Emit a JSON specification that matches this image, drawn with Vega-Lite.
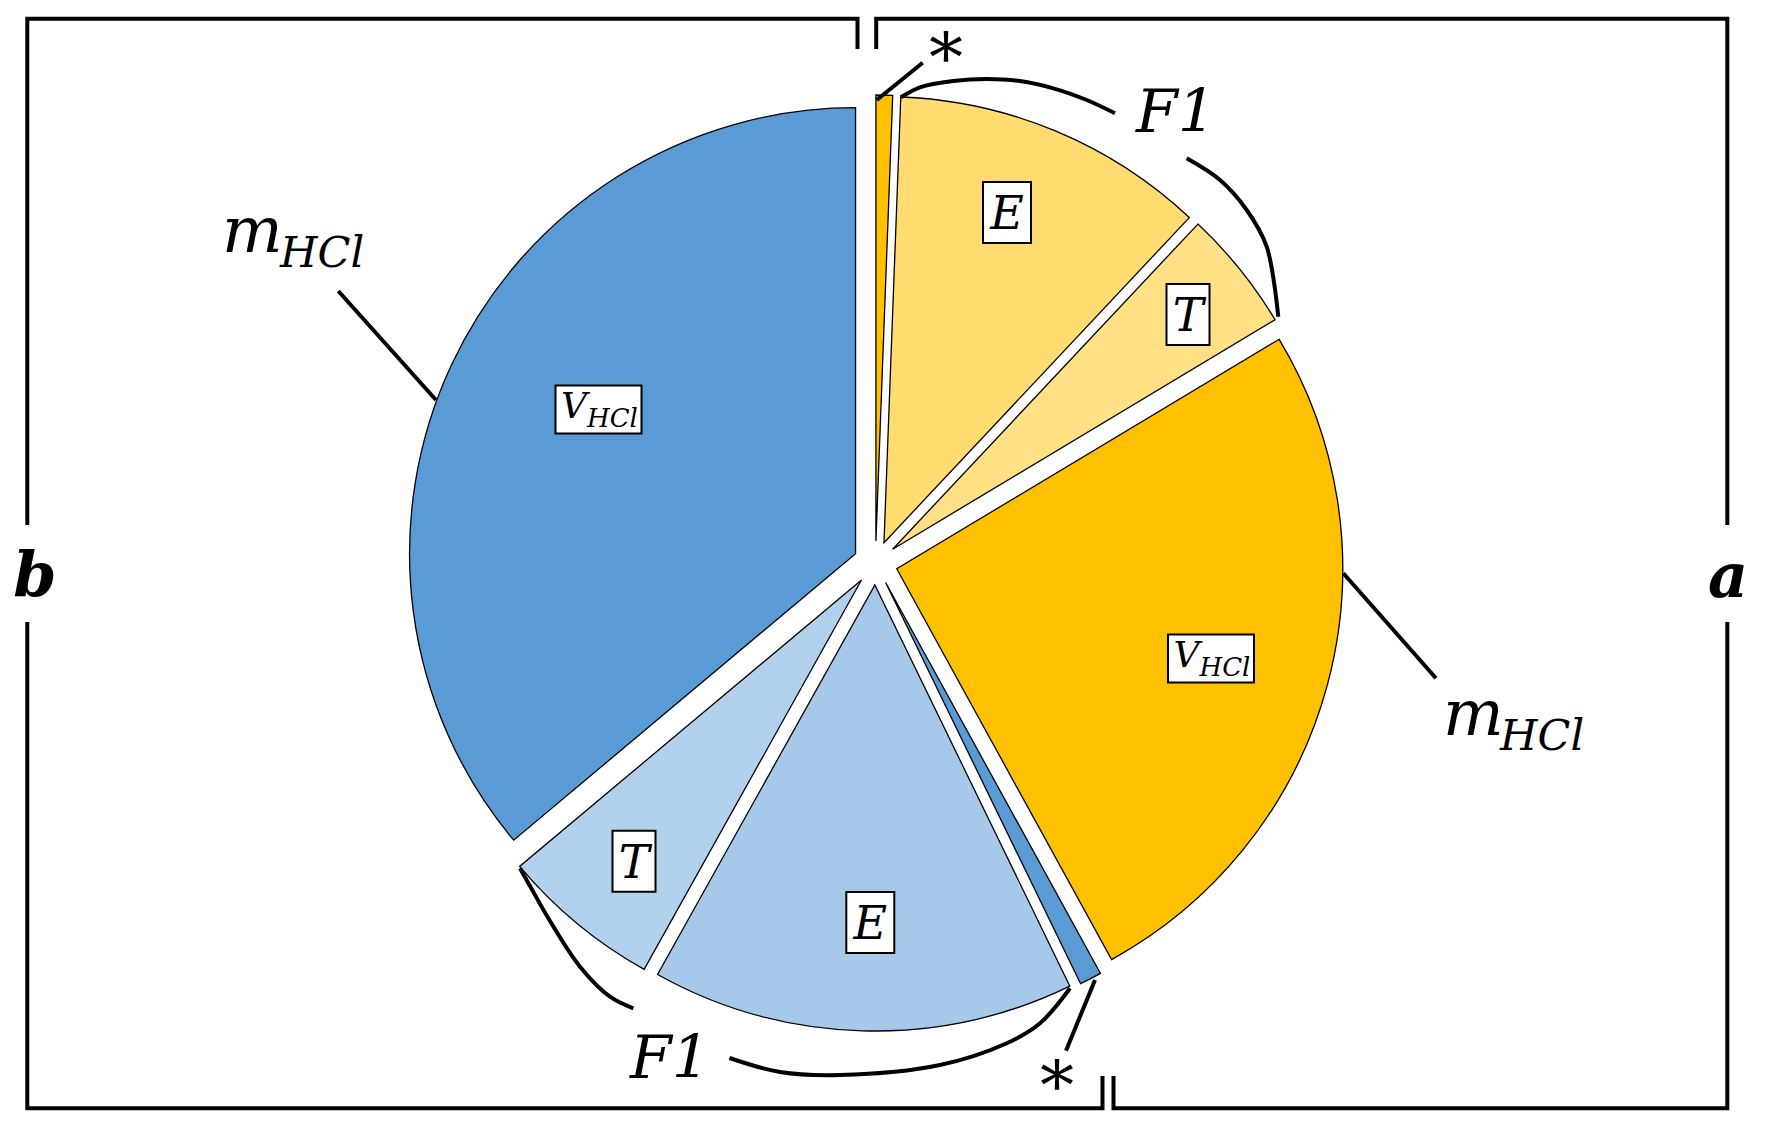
{
  "$schema": "https://vega.github.io/schema/vega-lite/v6.json",
  "width": 1765,
  "height": 1129,
  "autosize": {"type": "fit", "contains": "padding"},
  "padding": 0,
  "background": "white",
  "config": {"view": {"stroke": null}},
  "datasets": {
    "slices": [
      {"k": "a*", "o": 1, "v": 0.6},
      {"k": "aE", "o": 2, "v": 11.4},
      {"k": "aT", "o": 3, "v": 4.4},
      {"k": "aV", "o": 4, "v": 25.6},
      {"k": "b*", "o": 5, "v": 0.8},
      {"k": "bE", "o": 6, "v": 15.3},
      {"k": "bT", "o": 7, "v": 5.8},
      {"k": "bV", "o": 8, "v": 36.1}
    ],
    "lines": [
      {"g": "L1", "i": 1, "x": 85.75, "y": 4.9},
      {"g": "L1", "i": 2, "x": 85.75, "y": 1.87},
      {"g": "L1", "i": 3, "x": 2.73, "y": 1.87},
      {"g": "L1", "i": 4, "x": 2.73, "y": 52.5},
      {"g": "L2", "i": 1, "x": 2.73, "y": 62.2},
      {"g": "L2", "i": 2, "x": 2.73, "y": 110.83},
      {"g": "L2", "i": 3, "x": 110.25, "y": 110.83},
      {"g": "L2", "i": 4, "x": 110.25, "y": 107.6},
      {"g": "R1", "i": 1, "x": 87.62, "y": 4.9},
      {"g": "R1", "i": 2, "x": 87.62, "y": 1.87},
      {"g": "R1", "i": 3, "x": 172.73, "y": 1.87},
      {"g": "R1", "i": 4, "x": 172.73, "y": 52.5},
      {"g": "R2", "i": 1, "x": 172.73, "y": 62.2},
      {"g": "R2", "i": 2, "x": 172.73, "y": 110.83},
      {"g": "R2", "i": 3, "x": 111.35, "y": 110.83},
      {"g": "R2", "i": 4, "x": 111.35, "y": 107.6},
      {"g": "m1", "i": 1, "x": 33.83, "y": 29.1},
      {"g": "m1", "i": 2, "x": 43.6, "y": 40.0},
      {"g": "m2", "i": 1, "x": 134.33, "y": 57.33},
      {"g": "m2", "i": 2, "x": 143.6, "y": 67.83},
      {"g": "s1", "i": 1, "x": 87.67, "y": 10.0},
      {"g": "s1", "i": 2, "x": 92.27, "y": 6.27},
      {"g": "s2", "i": 1, "x": 109.5, "y": 98.0},
      {"g": "s2", "i": 2, "x": 106.6, "y": 105.07}
    ],
    "braces": [
      {"g": "F1a", "i": 1, "x": 90.1, "y": 9.73},
      {"g": "F1a", "i": 2, "x": 92.0, "y": 8.73},
      {"g": "F1a", "i": 3, "x": 95.33, "y": 8.1},
      {"g": "F1a", "i": 4, "x": 98.67, "y": 7.9},
      {"g": "F1a", "i": 5, "x": 102.0, "y": 8.1},
      {"g": "F1a", "i": 6, "x": 105.33, "y": 8.83},
      {"g": "F1a", "i": 7, "x": 108.67, "y": 10.0},
      {"g": "F1a", "i": 8, "x": 111.5, "y": 11.33},
      {"g": "F1b", "i": 1, "x": 118.67, "y": 15.83},
      {"g": "F1b", "i": 2, "x": 122.0, "y": 18.0},
      {"g": "F1b", "i": 3, "x": 124.67, "y": 21.0},
      {"g": "F1b", "i": 4, "x": 126.67, "y": 24.67},
      {"g": "F1b", "i": 5, "x": 127.83, "y": 31.67},
      {"g": "F2a", "i": 1, "x": 52.0, "y": 86.83},
      {"g": "F2a", "i": 2, "x": 53.0, "y": 88.6},
      {"g": "F2a", "i": 3, "x": 55.0, "y": 92.1},
      {"g": "F2a", "i": 4, "x": 58.0, "y": 96.67},
      {"g": "F2a", "i": 5, "x": 61.0, "y": 99.67},
      {"g": "F2a", "i": 6, "x": 63.33, "y": 100.83},
      {"g": "F2b", "i": 1, "x": 72.95, "y": 105.8},
      {"g": "F2b", "i": 2, "x": 78.0, "y": 107.2},
      {"g": "F2b", "i": 3, "x": 84.0, "y": 107.5},
      {"g": "F2b", "i": 4, "x": 94.0, "y": 106.5},
      {"g": "F2b", "i": 5, "x": 100.67, "y": 104.33},
      {"g": "F2b", "i": 6, "x": 104.0, "y": 102.33},
      {"g": "F2b", "i": 7, "x": 107.0, "y": 98.83}
    ],
    "boxes": [
      {"b": "E", "x": 100.7, "y": 21.25},
      {"b": "T", "x": 118.8, "y": 31.45},
      {"b": "T", "x": 63.4, "y": 86.13},
      {"b": "E", "x": 87.03, "y": 92.25},
      {"b": "V", "x": 59.85, "y": 40.95},
      {"b": "V", "x": 121.1, "y": 65.85}
    ],
    "texts": [
      {"r": "m", "t": "m", "x": 22.2, "y": 25.2},
      {"r": "s", "t": "HCl", "x": 28.0, "y": 26.73},
      {"r": "m", "t": "m", "x": 144.3, "y": 73.5},
      {"r": "s", "t": "HCl", "x": 150.0, "y": 75.0},
      {"r": "v", "t": "V", "x": 56.1, "y": 41.75},
      {"r": "vs", "t": "HCl", "x": 58.7, "y": 42.65},
      {"r": "v", "t": "V", "x": 117.35, "y": 66.65},
      {"r": "vs", "t": "HCl", "x": 119.95, "y": 67.55},
      {"r": "F", "t": "F1", "x": 117.6, "y": 13.17},
      {"r": "F", "t": "F1", "x": 67.0, "y": 107.8},
      {"r": "L", "t": "E", "x": 100.7, "y": 22.88},
      {"r": "L", "t": "T", "x": 118.8, "y": 33.13},
      {"r": "L", "t": "T", "x": 63.4, "y": 87.81},
      {"r": "L", "t": "E", "x": 87.03, "y": 93.93},
      {"r": "A", "t": "*", "x": 94.6, "y": 8.1},
      {"r": "A", "t": "*", "x": 105.7, "y": 110.9},
      {"r": "B", "t": "b", "x": 3.5, "y": 59.6},
      {"r": "B", "t": "a", "x": 172.8, "y": 59.67}
    ]
  },
  "resolve": {"scale": {"color": "independent", "shape": "independent"}},
  "layer": [
    {
      "data": {"name": "slices"},
      "transform": [
        {"stack": "v", "groupby": [], "sort": [{"field": "o", "order": "ascending"}], "as": ["t0", "t1"]}
      ],
      "mark": {
        "type": "arc",
        "outerRadius": 446,
        "stroke": "black",
        "strokeWidth": 1.3,
        "xOffset": {"expr": "22*sin(PI*(datum.t0+datum.t1)/100)"},
        "yOffset": {"expr": "-22*cos(PI*(datum.t0+datum.t1)/100)"}
      },
      "encoding": {
        "x": {"datum": 87.55, "type": "quantitative", "scale": {"domain": [0, 176.5], "nice": false, "zero": false}, "axis": null},
        "y": {"datum": 56.3, "type": "quantitative", "scale": {"domain": [0, 112.9], "nice": false, "zero": false, "reverse": true}, "axis": null},
        "theta": {"field": "t0", "type": "quantitative", "stack": null, "scale": {"domain": [0, 100], "range": [0, 6.283185307179586]}},
        "theta2": {"field": "t1"},
        "color": {
          "field": "k", "type": "nominal", "legend": null,
          "scale": {
            "domain": ["a*", "aE", "aT", "aV", "b*", "bE", "bT", "bV"],
            "range": ["#FFC000", "#FFDB70", "#FFE084", "#FFC000", "#5B9BD5", "#A6C9EA", "#B2D1ED", "#5B9BD5"]
          }
        }
      }
    },
    {
      "data": {"name": "lines"},
      "mark": {"type": "line", "color": "black", "strokeWidth": 4, "strokeCap": "butt", "strokeJoin": "miter"},
      "encoding": {
        "x": {"field": "x", "type": "quantitative", "scale": {"domain": [0, 176.5], "nice": false, "zero": false}, "axis": null},
        "y": {"field": "y", "type": "quantitative", "scale": {"domain": [0, 112.9], "nice": false, "zero": false, "reverse": true}, "axis": null},
        "detail": {"field": "g", "type": "nominal"},
        "order": {"field": "i", "type": "quantitative"}
      }
    },
    {
      "data": {"name": "braces"},
      "mark": {"type": "line", "color": "black", "strokeWidth": 4, "strokeCap": "butt", "interpolate": "catmull-rom"},
      "encoding": {
        "x": {"field": "x", "type": "quantitative", "scale": {"domain": [0, 176.5], "nice": false, "zero": false}, "axis": null},
        "y": {"field": "y", "type": "quantitative", "scale": {"domain": [0, 112.9], "nice": false, "zero": false, "reverse": true}, "axis": null},
        "detail": {"field": "g", "type": "nominal"},
        "order": {"field": "i", "type": "quantitative"}
      }
    },
    {
      "data": {"name": "boxes"},
      "mark": {"type": "point", "filled": true, "fill": "white", "stroke": "black", "strokeWidth": 2, "opacity": 1, "size": 4},
      "encoding": {
        "x": {"field": "x", "type": "quantitative", "scale": {"domain": [0, 176.5], "nice": false, "zero": false}, "axis": null},
        "y": {"field": "y", "type": "quantitative", "scale": {"domain": [0, 112.9], "nice": false, "zero": false, "reverse": true}, "axis": null},
        "shape": {
          "field": "b", "type": "nominal", "legend": null,
          "scale": {"domain": ["E", "T", "V"], "range": ["M-24,-30.5H24V30.5H-24Z", "M-21.5,-30.5H21.5V30.5H-21.5Z", "M-43,-24H43V24H-43Z"]}
        }
      }
    },
    {
      "data": {"name": "texts"},
      "transform": [{"filter": "datum.r == 'm'"}],
      "mark": {"type": "text", "font": "DejaVu Serif", "fontStyle": "italic", "fontSize": 64, "align": "left", "baseline": "alphabetic", "color": "black"},
      "encoding": {
        "x": {"field": "x", "type": "quantitative", "scale": {"domain": [0, 176.5], "nice": false, "zero": false}, "axis": null},
        "y": {"field": "y", "type": "quantitative", "scale": {"domain": [0, 112.9], "nice": false, "zero": false, "reverse": true}, "axis": null},
        "text": {"field": "t"}
      }
    },
    {
      "data": {"name": "texts"},
      "transform": [{"filter": "datum.r == 's'"}],
      "mark": {"type": "text", "font": "DejaVu Serif", "fontStyle": "italic", "fontSize": 43, "align": "left", "baseline": "alphabetic", "color": "black"},
      "encoding": {
        "x": {"field": "x", "type": "quantitative", "scale": {"domain": [0, 176.5], "nice": false, "zero": false}, "axis": null},
        "y": {"field": "y", "type": "quantitative", "scale": {"domain": [0, 112.9], "nice": false, "zero": false, "reverse": true}, "axis": null},
        "text": {"field": "t"}
      }
    },
    {
      "data": {"name": "texts"},
      "transform": [{"filter": "datum.r == 'v'"}],
      "mark": {"type": "text", "font": "DejaVu Serif", "fontStyle": "italic", "fontSize": 36, "align": "left", "baseline": "alphabetic", "color": "black"},
      "encoding": {
        "x": {"field": "x", "type": "quantitative", "scale": {"domain": [0, 176.5], "nice": false, "zero": false}, "axis": null},
        "y": {"field": "y", "type": "quantitative", "scale": {"domain": [0, 112.9], "nice": false, "zero": false, "reverse": true}, "axis": null},
        "text": {"field": "t"}
      }
    },
    {
      "data": {"name": "texts"},
      "transform": [{"filter": "datum.r == 'vs'"}],
      "mark": {"type": "text", "font": "DejaVu Serif", "fontStyle": "italic", "fontSize": 26, "align": "left", "baseline": "alphabetic", "color": "black"},
      "encoding": {
        "x": {"field": "x", "type": "quantitative", "scale": {"domain": [0, 176.5], "nice": false, "zero": false}, "axis": null},
        "y": {"field": "y", "type": "quantitative", "scale": {"domain": [0, 112.9], "nice": false, "zero": false, "reverse": true}, "axis": null},
        "text": {"field": "t"}
      }
    },
    {
      "data": {"name": "texts"},
      "transform": [{"filter": "datum.r == 'F'"}],
      "mark": {"type": "text", "font": "DejaVu Serif", "fontStyle": "italic", "fontSize": 60, "align": "center", "baseline": "alphabetic", "color": "black"},
      "encoding": {
        "x": {"field": "x", "type": "quantitative", "scale": {"domain": [0, 176.5], "nice": false, "zero": false}, "axis": null},
        "y": {"field": "y", "type": "quantitative", "scale": {"domain": [0, 112.9], "nice": false, "zero": false, "reverse": true}, "axis": null},
        "text": {"field": "t"}
      }
    },
    {
      "data": {"name": "texts"},
      "transform": [{"filter": "datum.r == 'L'"}],
      "mark": {"type": "text", "font": "DejaVu Serif", "fontStyle": "italic", "fontSize": 46, "align": "center", "baseline": "alphabetic", "color": "black"},
      "encoding": {
        "x": {"field": "x", "type": "quantitative", "scale": {"domain": [0, 176.5], "nice": false, "zero": false}, "axis": null},
        "y": {"field": "y", "type": "quantitative", "scale": {"domain": [0, 112.9], "nice": false, "zero": false, "reverse": true}, "axis": null},
        "text": {"field": "t"}
      }
    },
    {
      "data": {"name": "texts"},
      "transform": [{"filter": "datum.r == 'A'"}],
      "mark": {"type": "text", "font": "DejaVu Serif", "fontSize": 68, "align": "center", "baseline": "alphabetic", "color": "black"},
      "encoding": {
        "x": {"field": "x", "type": "quantitative", "scale": {"domain": [0, 176.5], "nice": false, "zero": false}, "axis": null},
        "y": {"field": "y", "type": "quantitative", "scale": {"domain": [0, 112.9], "nice": false, "zero": false, "reverse": true}, "axis": null},
        "text": {"field": "t"}
      }
    },
    {
      "data": {"name": "texts"},
      "transform": [{"filter": "datum.r == 'B'"}],
      "mark": {"type": "text", "font": "DejaVu Serif", "fontStyle": "italic", "fontWeight": "bold", "fontSize": 62, "align": "center", "baseline": "alphabetic", "color": "black"},
      "encoding": {
        "x": {"field": "x", "type": "quantitative", "scale": {"domain": [0, 176.5], "nice": false, "zero": false}, "axis": null},
        "y": {"field": "y", "type": "quantitative", "scale": {"domain": [0, 112.9], "nice": false, "zero": false, "reverse": true}, "axis": null},
        "text": {"field": "t"}
      }
    }
  ]
}
